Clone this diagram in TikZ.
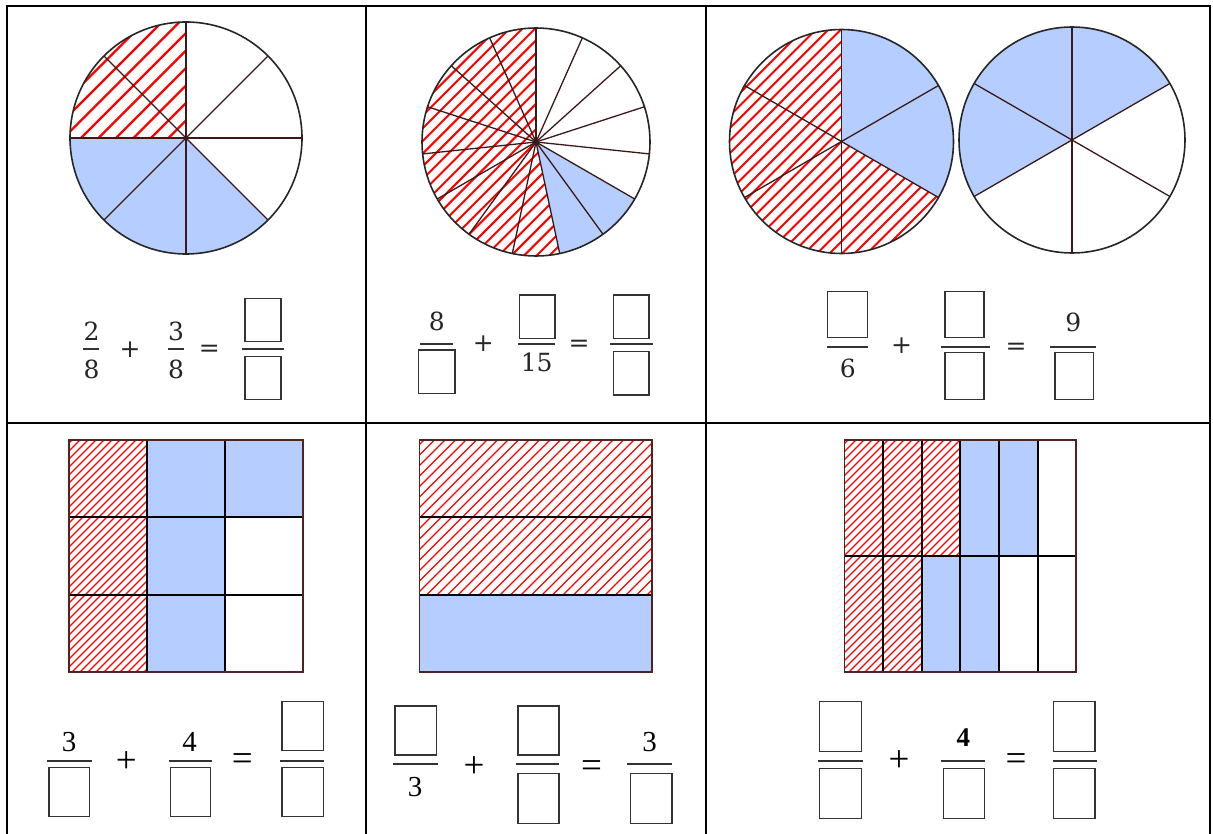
\documentclass[tikz,border=0pt]{standalone}
\usepackage{fontspec}
\newfontfamily\timesf{Liberation Serif}
\newfontfamily\dvserif{DejaVu Serif}
\usetikzlibrary{calc}
\definecolor{fillblue}{RGB}{182,205,255}
\definecolor{hatchred}{RGB}{255,0,0}
\definecolor{spoke}{RGB}{60,25,25}
\definecolor{frame}{RGB}{80,35,35}
\tikzset{
  tablerule/.style={line width=2pt, black},
  spokeline/.style={line width=1.3pt, spoke},
  rim/.style={line width=1.6pt, black!85},
  gridline/.style={line width=1.8pt, black},
  outerframe/.style={line width=1.6pt, frame},
  barline/.style={line width=2pt, black!80},
  box/.style 2 args={draw=black!80, line width=1.4pt, inner sep=0pt, minimum width=#1pt, minimum height=#2pt},
  numA/.style={inner sep=0pt, text=black!85, font=\dvserif\fontsize{25}{28}\selectfont},
  opA/.style={inner sep=0pt, anchor=base, text=black!85, font=\dvserif\fontsize{25}{28}\selectfont},
  numB/.style={inner sep=0pt, font=\timesf\fontsize{29}{32}\selectfont},
  opB/.style={inner sep=0pt, anchor=base, font=\timesf\fontsize{37}{40}\selectfont},
}
% #1 clip path, #2 horizontal spacing, #3 centre coordinate, #4 line width
\newcommand\hatchregion[4]{%
  \begin{scope}
    \clip #1;
    \foreach \k in {-30,...,30}{\draw[hatchred, line width=#4] ($#3+(\k*#2 pt,0pt)$) ++(-300,300) -- ++(600,-600);}
  \end{scope}}
\begin{document}
\begin{tikzpicture}[x=1pt,y=-1pt]
\useasboundingbox (0,0) rectangle (1213,834);
\fill[white] (0,0) rectangle (1213,834);

%================ Circle 1 =================
\coordinate (c1) at (186,138);
\fill[fillblue] (c1) -- ($(c1)+(180:116pt)$) arc[start angle=180,end angle=315,radius=116pt] -- cycle;
\hatchregion{(c1) -- ($(c1)+(90:116pt)$) arc[start angle=90,end angle=180,radius=116pt] -- cycle}{17.5}{(c1)}{2.2pt}
\foreach \a in {0,45,...,315}{\draw[spokeline] (c1) -- ($(c1)+(\a:116pt)$);}
\draw[rim] (c1) circle[radius=116pt];

%================ Circle 2 =================
\coordinate (c2) at (536,142);
\fill[fillblue] (c2) -- ($(c2)+(-78:114pt)$) arc[start angle=-78,end angle=-30,radius=114pt] -- cycle;
\hatchregion{(c2) -- ($(c2)+(90:114pt)$) arc[start angle=90,end angle=282,radius=114pt] -- cycle}{12.7}{(c2)}{2pt}
\foreach \i in {0,...,14}{\draw[spokeline] (c2) -- ($(c2)+(90-24*\i:114pt)$);}
\draw[rim] (c2) circle[radius=114pt];

%================ Circle 3a =================
\coordinate (c3) at (841.5,141.5);
\fill[fillblue] (c3) -- ($(c3)+(-30:112pt)$) arc[start angle=-30,end angle=90,radius=112pt] -- cycle;
\hatchregion{(c3) -- ($(c3)+(90:112pt)$) arc[start angle=90,end angle=330,radius=112pt] -- cycle}{12.5}{(c3)}{2pt}
\foreach \a in {90,30,-30,-90,-150,150}{\draw[spokeline] (c3) -- ($(c3)+(\a:112pt)$);}
\draw[rim] (c3) circle[radius=112pt];

%================ Circle 3b =================
\coordinate (c4) at (1072,140);
\fill[fillblue] (c4) -- ($(c4)+(30:113pt)$) arc[start angle=30,end angle=210,radius=113pt] -- cycle;
\foreach \a in {90,30,-30,-90,-150,150}{\draw[spokeline] (c4) -- ($(c4)+(\a:113pt)$);}
\draw[rim] (c4) circle[radius=113pt];

%================ Grid D (3x3) =================
\fill[fillblue] (147,440) rectangle (225,672);
\fill[fillblue] (225,440) rectangle (303,517.3);
\hatchregion{(69,440) rectangle (147,672)}{8}{(108,556)}{1.3pt}
\draw[gridline] (147,440) -- (147,672) (225,440) -- (225,672) (69,517.3) -- (303,517.3) (69,594.7) -- (303,594.7);
\draw[outerframe] (69,440) rectangle (303,672);

%================ Grid E (3 rows) =================
\fill[fillblue] (419.3,595) rectangle (651.7,672);
\hatchregion{(419.3,440) rectangle (651.7,595)}{10.5}{(535.5,517.5)}{1.3pt}
\draw[gridline] (419.3,517.3) -- (651.7,517.3) (419.3,595) -- (651.7,595);
\draw[outerframe] (419.3,440) rectangle (651.7,672);

%================ Grid F (6x2) =================
\fill[fillblue] (960.3,440) rectangle (1037.7,556);
\fill[fillblue] (921.7,556) rectangle (999,672);
\hatchregion{(844.3,440) rectangle (960.3,556)}{8}{(902,498)}{1.3pt}
\hatchregion{(844.3,556) rectangle (921.7,672)}{8}{(883,614)}{1.3pt}
\foreach \x in {883,921.7,960.3,999,1037.7}{\draw[gridline] (\x,440) -- (\x,672);}
\draw[gridline] (844.3,556) -- (1076,556);
\draw[outerframe] (844.3,440) rectangle (1076,672);

%================ Table =================
\draw[tablerule] (6,6) -- (1211,6);
\draw[tablerule] (7,423) -- (1210,423);
\draw[tablerule] (7,5) -- (7,834);
\draw[tablerule] (366,5) -- (366,834);
\draw[tablerule] (706,5) -- (706,834);
\draw[tablerule] (1210,5) -- (1210,834);

%================ Equation A =================
\node[numA] (a-n1) at (91.7,331.7) {2};
\node[numA] (a-d1) at (91.7,369) {8};
\draw[barline] (83.3,349.3) -- (99.3,349.3);
\node[opA] (a-plus) at (130,357.5) {+};
\node[numA] (a-n2) at (176,331.7) {3};
\node[numA] (a-d2) at (176,369) {8};
\draw[barline] (167.7,349.3) -- (184,349.3);
\node[opA] (a-eq) at (209.3,356.3) {=};
\node[box={36}{43}] (a-n3) at (263,320) {};
\draw[barline] (241.7,349.3) -- (284.3,349.3);
\node[box={36}{43}] (a-d3) at (263,378) {};

%================ Equation B =================
\node[numA] (b-n1) at (436.7,321) {8};
\draw[barline] (420,344) -- (453.3,344);
\node[box={36.7}{43.3}] (b-d1) at (436.7,371.7) {};
\node[opA] (b-plus) at (483.3,352) {+};
\node[box={35.7}{43.3}] (b-n2) at (537.2,316.7) {};
\draw[barline] (518,344) -- (555,344);
\node[numA] (b-d2) at (536.7,362.5) {15};
\node[opA] (b-eq) at (579,352) {=};
\node[box={35.7}{43.3}] (b-n3) at (631.2,316.7) {};
\draw[barline] (610,344) -- (652.7,344);
\node[box={35.7}{43.3}] (b-d3) at (631.2,373.3) {};

%================ Equation C =================
\node[box={40}{45.6}] (c-n1) at (847.3,314.5) {};
\draw[barline] (826.7,346.7) -- (867.7,346.7);
\node[numA] (c-d1) at (847.7,368.7) {6};
\node[opA] (c-plus) at (901.7,353.5) {+};
\node[box={39}{45.6}] (c-n2) at (964.5,314.5) {};
\draw[barline] (940.7,346.7) -- (990,346.7);
\node[box={39}{46.6}] (c-d2) at (964.5,376) {};
\node[opA] (c-eq) at (1016,355) {=};
\node[numA] (c-n3) at (1073.3,322) {9};
\draw[barline] (1050,346.7) -- (1096,346.7);
\node[box={38.3}{46.6}] (c-d3) at (1074.2,376) {};

%================ Equation D =================
\node[numB] (d-n1) at (69.2,741.7) {3};
\draw[barline] (46.9,760.7) -- (91.5,760.7);
\node[box={40.2}{49.4}] (d-d1) at (69.2,792) {};
\node[opB] (d-plus) at (126.3,772) {+};
\node[numB] (d-n2) at (189.7,741.5) {4};
\draw[barline] (168.8,760.7) -- (212,760.7);
\node[box={40.2}{49.4}] (d-d2) at (190.6,792) {};
\node[opB] (d-eq) at (242.4,770) {=};
\node[box={41.7}{49}] (d-n3) at (302.8,726.2) {};
\draw[barline] (280.4,760.7) -- (323.7,760.7);
\node[box={41.7}{49.4}] (d-d3) at (302.8,792) {};

%================ Equation E =================
\node[box={41.6}{49}] (e-n1) at (415.8,730.5) {};
\draw[barline] (392.9,764) -- (437.5,764);
\node[numB] (e-d1) at (415.2,787.5) {3};
\node[opB] (e-plus) at (474.1,777.6) {+};
\node[box={41}{49}] (e-n2) at (538.4,730.5) {};
\draw[barline] (515.6,764) -- (558.9,764);
\node[box={41}{50}] (e-d2) at (538.4,798.3) {};
\node[opB] (e-eq) at (591.5,777.6) {=};
\node[numB] (e-n3) at (649.6,742) {3};
\draw[barline] (627.2,764) -- (671.9,764);
\node[box={41.5}{50}] (e-d3) at (651.2,798.3) {};

%================ Equation F =================
\node[box={42.4}{50}] (f-n1) at (840.5,726.7) {};
\draw[barline] (818.3,761) -- (863.3,761);
\node[box={42.4}{50}] (f-d1) at (840.5,793.3) {};
\node[opB] (f-plus) at (899,771) {+};
\node[numB, font=\timesf\bfseries\fontsize{27}{30}\selectfont] (f-n2) at (963.3,737.5) {4};
\draw[barline] (940.7,761) -- (985,761);
\node[box={41}{50}] (f-d2) at (963.8,793.3) {};
\node[opB] (f-eq) at (1016,770.3) {=};
\node[box={41.7}{50}] (f-n3) at (1074.2,726.7) {};
\draw[barline] (1052.7,761) -- (1096.7,761);
\node[box={41.7}{50}] (f-d3) at (1074.2,793.3) {};
\end{tikzpicture}
\end{document}
